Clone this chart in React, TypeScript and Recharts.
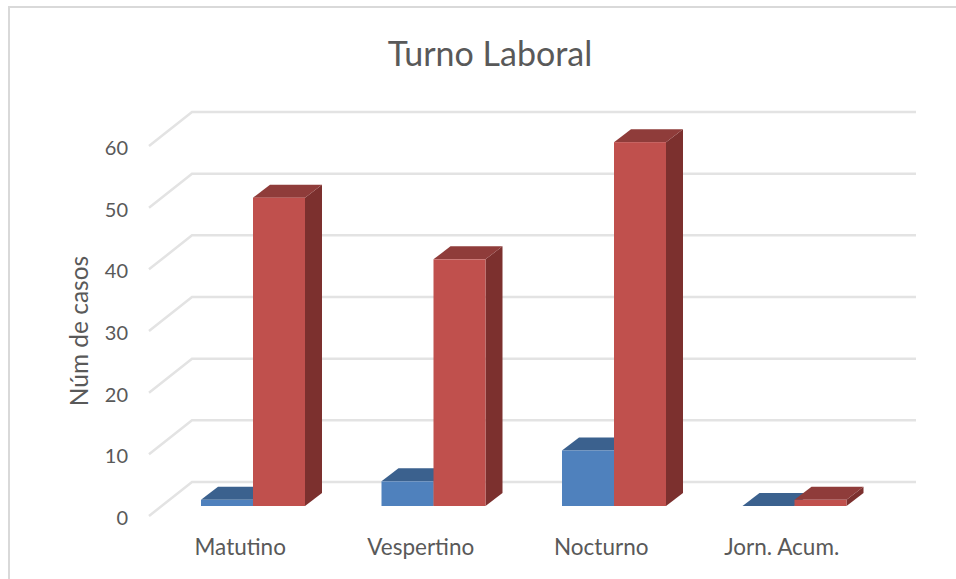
import { BarChart, Bar, XAxis, YAxis, CartesianGrid, Text } from "recharts";

const CATEGORIES = ["Matutino", "Vespertino", "Nocturno", "Jorn. Acum."];
const BLUE_VALUES = [1, 4, 9, 0];
const RED_VALUES = [50, 40, 59, 1];
const Y_TICKS = [0, 10, 20, 30, 40, 50, 60];

const rows = CATEGORIES.map((name, i) => ({ name, blue: BLUE_VALUES[i], red: RED_VALUES[i] }));

const TEXT_COLOR = "#595959";
const GRID_COLOR = "#e3e3e3";
const FONT = "Lato, Carlito, sans-serif";
// bar depth in the fake 3D projection
const DEPTH_X = 17;
const DEPTH_Y = 13;

function Bar3D({ x, y, width, height, front, top, side }: any) {
  const r = x + width;
  const b = y + height;
  return (
    <g>
      <polygon points={`${r},${y} ${r + DEPTH_X},${y - DEPTH_Y} ${r + DEPTH_X},${b - DEPTH_Y} ${r},${b}`} fill={side} />
      <polygon points={`${x},${y} ${x + DEPTH_X},${y - DEPTH_Y} ${r + DEPTH_X},${y - DEPTH_Y} ${r},${y}`} fill={top} />
      <rect x={x} y={y} width={width} height={height} fill={front} />
    </g>
  );
}

// back wall line plus the diagonal running forward along the side wall
function GridLine({ x1, x2, y1 }: any) {
  const backY = y1 - 24;
  return (
    <g fill="none" stroke={GRID_COLOR} strokeWidth={2.5}>
      <polyline points={`${x1 - 14},${y1 + 10} ${x1 + 29},${backY} ${x2 + 31},${backY}`} />
    </g>
  );
}

function YTick({ y, payload }: any) {
  return (
    <text x={128} y={y + 19} textAnchor="end" fontFamily={FONT} fontSize={20} fill={TEXT_COLOR}>
      {payload.value}
    </text>
  );
}

function XTick({ x, payload }: any) {
  return (
    <text x={x - 13} y={555} textAnchor="middle" fontFamily={FONT} fontSize={22.5} fill={TEXT_COLOR}>
      {payload.value}
    </text>
  );
}

export default function App() {
  return (
    <div style={{ position: "absolute", left: 0, top: 0, width: 956, height: 579, background: "#fff", overflow: "hidden" }}>
      <div style={{ position: "absolute", left: 8, top: 6, width: 1000, height: 700, border: "2px solid #d9d9d9", boxSizing: "border-box" }} />
      <BarChart
        width={956}
        height={579}
        data={rows}
        barSize={52}
        barGap={0}
        margin={{ top: 136, right: 71, bottom: 43, left: 0 }}
        style={{ position: "absolute", left: 0, top: 0 }}
      >
        <text x={490} y={66} textAnchor="middle" fontFamily={FONT} fontSize={34} fill={TEXT_COLOR}>
          Turno Laboral
        </text>
        <Text x={88} y={331} angle={-90} textAnchor="middle" fontFamily={FONT} fontSize={24.5} fill={TEXT_COLOR}>
          Núm de casos
        </Text>
        <CartesianGrid vertical={false} horizontal={(p: any) => <GridLine key={p.key} {...p} />} />
        <XAxis dataKey="name" axisLine={false} tickLine={false} tick={<XTick />} interval={0} />
        <YAxis
          domain={[0, 60]}
          ticks={Y_TICKS}
          width={163}
          axisLine={false}
          tickLine={false}
          tick={<YTick />}
          interval={0}
        />
        <Bar
          dataKey="blue"
          isAnimationActive={false}
          shape={(p: any) => <Bar3D {...p} front="#4f81bd" top="#3b618e" side="#2f4e72" />}
        />
        <Bar
          dataKey="red"
          isAnimationActive={false}
          shape={(p: any) => <Bar3D {...p} front="#c0504d" top="#8f3c3a" side="#7c302e" />}
        />
      </BarChart>
    </div>
  );
}
